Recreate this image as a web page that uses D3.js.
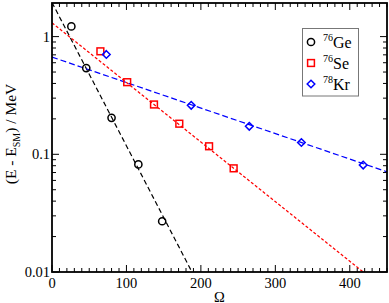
<!DOCTYPE html>
<html>
<head>
<meta charset="utf-8">
<script src="https://cdn.jsdelivr.net/npm/d3@7"></script>
<style>
  body { margin: 0; background: #fff; }
  svg { display: block; font-family: "Liberation Serif", "DejaVu Serif", serif; }
</style>
</head>
<body>
<div id="chart"></div>
<script>
// data
const geOmega = [26, 46, 80, 116, 148];
const geVals = [1.22, 0.54, 0.204, 0.082, 0.027];
const seOmega = [65, 101, 137, 171, 211, 244];
const seVals = [0.75, 0.41, 0.265, 0.182, 0.117, 0.076];
const krOmega = [73, 187, 265, 335, 418];
const krVals = [0.705, 0.261, 0.173, 0.126, 0.081];

// fitted exponentials, given by their end points
const geFit = [[0, 1.95], [188, 0.01]];
const seFit = [[0, 1.31], [418, 0.01]];
const krFit = [[0, 0.67], [450, 0.071]];

const xTicks = [0, 100, 200, 300, 400];
const yTicks = [0.01, 0.1, 1];
const yTickLabels = ["0.01", "0.1", "1"];

const W = 389, H = 303;
const margin = {top: 3, right: 2, bottom: 31, left: 52};

const svg = d3.select("#chart").append("svg")
    .attr("width", W)
    .attr("height", H);

const x = d3.scaleLinear().domain([0, 450]).range([margin.left, W - margin.right]);
const y = d3.scaleLog().domain([0.01, 1.93]).range([H - margin.bottom, margin.top]);

// clip for lines
svg.append("clipPath").attr("id", "clip")
    .append("rect")
    .attr("x", x(0)).attr("y", y(1.93))
    .attr("width", x(450) - x(0)).attr("height", y(0.01) - y(1.93));

const line = d3.line().x(d => x(d[0])).y(d => y(d[1]));

const fits = [
    {pts: geFit, color: "#000", dash: "5,3"},
    {pts: seFit, color: "#ff0000", dash: "3,2"},
    {pts: krFit, color: "#0000ff", dash: "6,3"}
];
fits.forEach(f => {
    svg.append("path")
        .attr("d", line(f.pts))
        .attr("clip-path", "url(#clip)")
        .attr("fill", "none")
        .attr("stroke", f.color)
        .attr("stroke-width", 1.2)
        .attr("stroke-dasharray", f.dash);
});

// markers
const ge = geOmega.map((o, i) => [o, geVals[i]]);
const se = seOmega.map((o, i) => [o, seVals[i]]);
const kr = krOmega.map((o, i) => [o, krVals[i]]);

function drawCircle(g, cx, cy) {
    g.append("circle").attr("cx", cx).attr("cy", cy).attr("r", 3.6)
        .attr("fill", "none").attr("stroke", "#000").attr("stroke-width", 1.5);
}
function drawSquare(g, cx, cy) {
    g.append("rect").attr("x", cx - 3.4).attr("y", cy - 3.4).attr("width", 6.8).attr("height", 6.8)
        .attr("fill", "none").attr("stroke", "#ff0000").attr("stroke-width", 1.5);
}
function drawDiamond(g, cx, cy) {
    const s = 3.8;
    g.append("path").attr("d", `M${cx},${cy - s}L${cx + s},${cy}L${cx},${cy + s}L${cx - s},${cy}Z`)
        .attr("fill", "none").attr("stroke", "#0000ff").attr("stroke-width", 1.5);
}

const marks = svg.append("g");
ge.forEach(d => drawCircle(marks, x(d[0]), y(d[1])));
se.forEach(d => drawSquare(marks, x(d[0]), y(d[1])));
kr.forEach(d => drawDiamond(marks, x(d[0]), y(d[1])));

// axes with inward ticks
const x0 = x(0), x1 = x(450), y0 = y(0.01), y1 = y(1.93);
const axes = svg.append("g").attr("stroke", "#000");

d3.range(0, 451, 10).forEach(v => {
    const len = (v % 100 === 0) ? 7 : 4;
    axes.append("line").attr("x1", x(v)).attr("x2", x(v)).attr("y1", y0).attr("y2", y0 - len).attr("stroke-width", 1);
    axes.append("line").attr("x1", x(v)).attr("x2", x(v)).attr("y1", y1).attr("y2", y1 + len).attr("stroke-width", 1);
});

const logTicks = [];
[0.01, 0.1, 1].forEach(dec => {
    for (let k = 1; k <= 9; k++) {
        const v = dec * k;
        if (v <= 1.93) logTicks.push({v: v, major: k === 1});
    }
});
logTicks.forEach(t => {
    const len = t.major ? 7 : 4;
    axes.append("line").attr("x1", x0).attr("x2", x0 + len).attr("y1", y(t.v)).attr("y2", y(t.v)).attr("stroke-width", 1);
    axes.append("line").attr("x1", x1).attr("x2", x1 - len).attr("y1", y(t.v)).attr("y2", y(t.v)).attr("stroke-width", 1);
});

svg.append("rect")
    .attr("x", x0).attr("y", y1)
    .attr("width", x1 - x0).attr("height", y0 - y1)
    .attr("fill", "none").attr("stroke", "#000").attr("stroke-width", 1.8);

// tick labels
svg.selectAll(".xl").data(xTicks).enter().append("text")
    .attr("x", d => x(d)).attr("y", 288)
    .attr("text-anchor", "middle")
    .attr("font-size", 14.5)
    .text(d => d);

svg.selectAll(".yl").data(yTicks).enter().append("text")
    .attr("x", 50).attr("y", d => y(d) + 5)
    .attr("text-anchor", "end")
    .attr("font-size", 14.5)
    .text((d, i) => yTickLabels[i]);

// axis titles
svg.append("text")
    .attr("x", x(225)).attr("y", 301.5)
    .attr("text-anchor", "middle")
    .attr("font-size", 14.5)
    .text("Ω");

const yl = svg.append("text")
    .attr("transform", `translate(16,134) rotate(-90)`)
    .attr("text-anchor", "middle")
    .attr("font-size", 15.5);
yl.append("tspan").text("(E - E");
yl.append("tspan").attr("font-size", 10).attr("dy", 4).text("SM");
yl.append("tspan").attr("dy", -4).text(") / MeV");

// legend
const legend = svg.append("g");
legend.append("rect")
    .attr("x", 302.5).attr("y", 28.5).attr("width", 56).attr("height", 67.5)
    .attr("fill", "#fff").attr("stroke", "#777").attr("stroke-width", 1);

const legendItems = [
    {mass: "76", name: "Ge", draw: drawCircle},
    {mass: "76", name: "Se", draw: drawSquare},
    {mass: "78", name: "Kr", draw: drawDiamond}
];
legendItems.forEach((it, i) => {
    const cy = 42 + i * 21;
    it.draw(legend, 311, cy);
    const t = legend.append("text").attr("x", 323).attr("y", cy + 6).attr("font-size", 16);
    t.append("tspan").attr("font-size", 10).attr("dy", -7).text(it.mass);
    t.append("tspan").attr("dy", 7).text(it.name);
});
</script>
</body>
</html>
